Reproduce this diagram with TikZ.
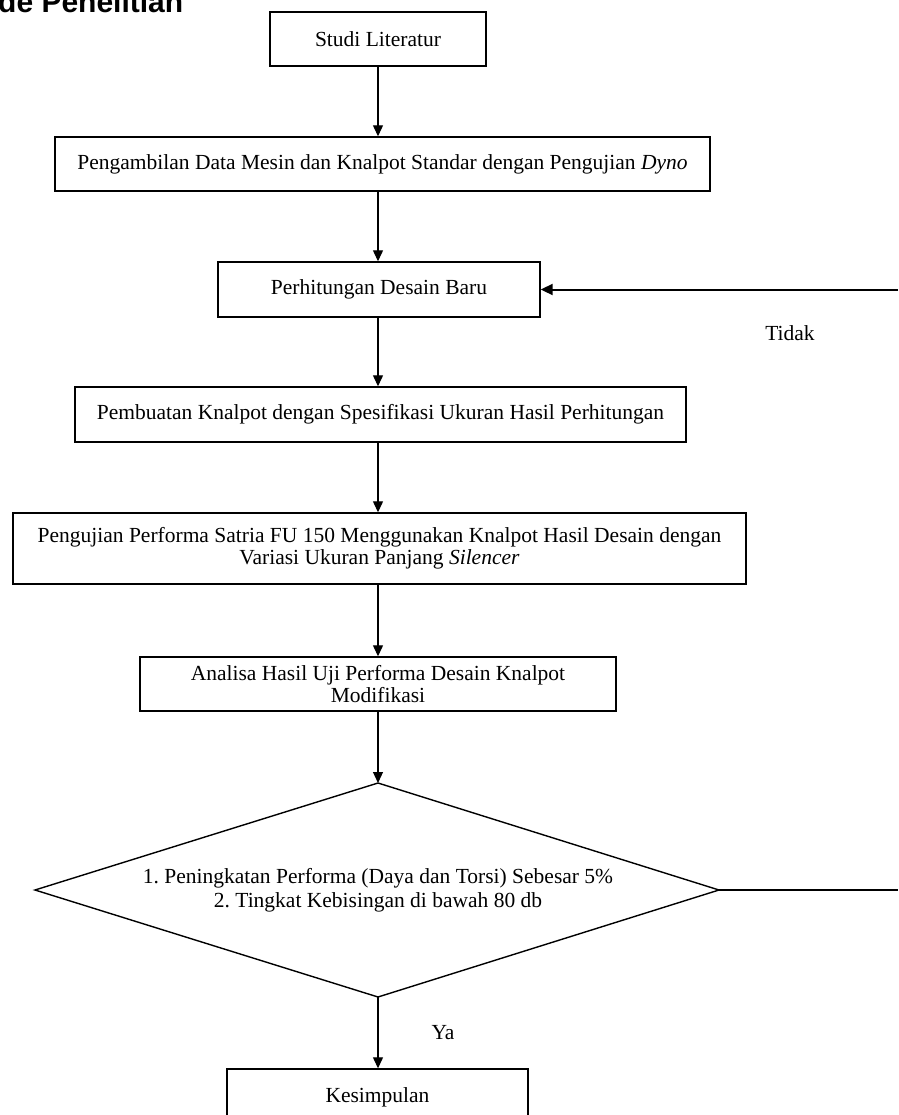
\documentclass[tikz,border=0pt]{standalone}
\usepackage{fontspec}
\setmainfont{Liberation Serif}
\newfontfamily\titlefont{Liberation Sans}
\usetikzlibrary{arrows.meta}
\frenchspacing
\begin{document}
\begin{tikzpicture}[x=1pt,y=-1pt,
  every node/.style={font=\fontsize{21.5}{24}\selectfont},
  stepbox/.style={draw,line width=1.4pt,rectangle,inner sep=0pt,align=center},
  arr/.style={line width=1.2pt,-{Triangle[length=11pt,width=10pt]}},
  lbl/.style={inner sep=0pt}]
\useasboundingbox (0,0) rectangle (898,1115);
\fill[white] (0,0) rectangle (898,1115);
\node[anchor=base west,inner sep=0pt,font=\titlefont\bfseries\fontsize{30}{34}\selectfont] (title) at (-2,13) {de Penelitian};

\node[stepbox,minimum width=216pt,minimum height=54pt] (n1) at (378,39) {Studi Literatur};
\node[stepbox,minimum width=655pt,minimum height=54pt] (n2) at (382.5,164) {Pengambilan Data Mesin dan Knalpot Standar dengan Pengujian \textit{Dyno}};
\node[stepbox,minimum width=322pt,minimum height=55pt] (n3) at (379,289.5) {Perhitungan Desain Baru};
\node[stepbox,minimum width=611pt,minimum height=55pt] (n4) at (380.5,414.5) {Pembuatan Knalpot dengan Spesifikasi Ukuran Hasil Perhitungan};
\node[stepbox,minimum width=733pt,minimum height=71pt] (n5) at (379.5,548.5) {Pengujian Performa Satria FU 150 Menggunakan Knalpot Hasil Desain dengan\\[-2pt] Variasi Ukuran Panjang \textit{Silencer}};
\node[stepbox,minimum width=476pt,minimum height=54pt] (n6) at (378,684) {Analisa Hasil Uji Performa Desain Knalpot\\[-2pt] Modifikasi};

\coordinate (dt) at (378,783);
\coordinate (dl) at (35,890);
\coordinate (dr) at (719,890);
\coordinate (db) at (378,997);
\draw[line width=1.4pt,line join=miter] (dt) -- (dr) -- (db) -- (dl) -- cycle;
\node[align=center,inner sep=0pt] (n7) at (378,890) {1. Peningkatan Performa (Daya dan Torsi) Sebesar 5\%\\[0pt] 2. Tingkat Kebisingan di bawah 80 db};

\node[stepbox,minimum width=301pt,minimum height=56pt] (n8) at (377.5,1097) {Kesimpulan};

\draw[arr] (n1.south -| dt) -- (n2.north -| dt);
\draw[arr] (n2.south -| dt) -- (n3.north -| dt);
\draw[arr] (n3.south -| dt) -- (n4.north -| dt);
\draw[arr] (n4.south -| dt) -- (n5.north -| dt);
\draw[arr] (n5.south -| dt) -- (n6.north -| dt);
\draw[arr] (n6.south -| dt) -- (dt);
\draw[arr] (db) -- (n8.north -| db);

\coordinate (r1) at (898,289.5);
\coordinate (r2) at (898,890);
\draw[line width=1.4pt] (dr) -- (r2);
\draw[line width=2pt,-{Triangle[length=12pt,width=11pt]}] (r1) -- (n3.east);

\node[lbl] (tidak) at (790,333) {Tidak};
\node[lbl] (ya) at (443,1033) {Ya};
\end{tikzpicture}
\end{document}
